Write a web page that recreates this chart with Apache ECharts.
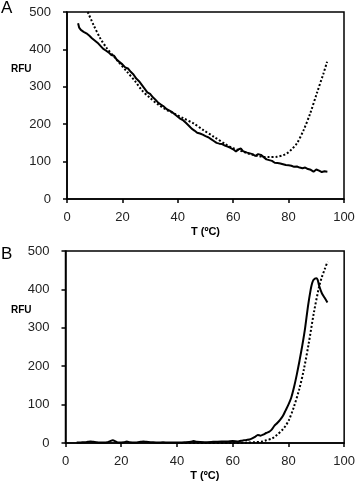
<!DOCTYPE html>
<html>
<head>
<meta charset="utf-8">
<script src="https://cdn.jsdelivr.net/npm/echarts@6/dist/echarts.min.js"></script>
<style>
  html, body { margin: 0; padding: 0; background: #fff; }
  #chart { width: 358px; height: 484px; }
</style>
</head>
<body>
<div id="chart"></div>
<script>
// panel A, measured melt curve (solid)
const aMeasT = [4, 4.4, 5, 6, 7, 8, 9, 10, 11, 12, 13, 14, 15, 16, 17, 17.5, 18, 19, 20, 21, 22, 23, 24, 25, 26, 27, 28, 29, 30,
  31, 32, 33, 34, 35, 36, 37, 38, 39, 40, 41, 42, 43, 44, 45, 46, 47, 48, 49, 50, 51, 52, 53, 54, 55, 56, 57, 58, 59, 60,
  61, 62, 62.8, 63.5, 65, 66, 67, 68, 69, 70, 71, 72, 73, 74, 75, 76, 77, 78, 79, 80, 81, 82, 83, 84, 85, 86, 87, 88, 89, 90, 91, 92, 93, 94]
const aMeasRFU = [470, 458, 452, 447, 443, 437, 430, 424, 418, 410, 402, 397, 392, 385, 383, 382, 372, 366, 360, 352, 349, 340, 333, 322, 315, 305, 295, 285, 281,
  272, 265, 257, 252, 247, 240, 236, 232, 226, 220, 214, 210, 203, 196, 188, 183, 177, 175, 172, 168, 165, 160, 155, 150, 148, 147, 143, 140, 137, 133,
  127, 133, 135, 128, 124, 122, 120, 115, 120, 118, 112, 106, 104, 102, 97, 96, 95, 93, 91, 90, 89, 86, 87, 84, 82, 84, 80, 78, 73, 79, 76, 72, 74, 73]
// panel A, model curve (dotted)
const aFitT = [7.5, 9.6, 12, 14.4, 18, 21.7, 24.7, 27, 30, 33, 36, 38.5, 42, 45.7, 49.3, 52.9, 57.8, 60, 63, 66, 69, 71, 73, 75.8, 78, 79.4, 81, 83, 85.4, 87.8, 90.2, 92.6, 93.9]
const aFitRFU = [500, 465, 430, 403, 372, 340, 314, 291, 270, 252, 238, 229, 216, 202, 184, 167, 144, 136, 128, 120, 115, 113, 112, 113, 117, 122, 132, 149, 184, 229, 283, 336, 367]
// panel B, measured (solid)
const bMeasT = [4, 5, 6, 7, 8, 9, 10, 11, 12, 14, 15, 16, 17, 18, 19, 21, 22, 23, 25, 27, 28, 29, 31, 33, 35, 37, 40, 43, 45, 46, 47, 50, 53, 56, 58, 60,
  62, 63, 64, 65, 66, 67, 68, 69, 70, 71, 72, 73, 74, 75, 76, 77, 78, 79, 80, 81, 82, 83, 84, 85, 86, 87, 88, 88.5, 89, 90, 90.5, 91, 92, 93, 94]
const bMeasRFU = [1, 1, 2, 2, 3, 4, 3, 2, 1, 1, 2, 5, 7, 4, 1, 2, 4, 2, 1, 3, 4, 3, 2, 1, 2, 1, 1, 2, 3, 5, 3, 2, 3, 4, 4, 5,
  4, 6, 7, 8, 9, 12, 16, 21, 19, 22, 26, 29, 35, 45, 52, 60, 70, 85, 100, 118, 145, 178, 215, 255, 300, 355, 400, 416, 425, 429, 425, 410, 390, 378, 366]
// panel B, model (dotted)
const bFitT = [40, 50, 60, 65, 68, 70.7, 72, 74.2, 76, 77.8, 79, 80.2, 82, 83.8, 85.5, 87.3, 89.1, 91, 92, 93, 94]
const bFitRFU = [0, 0, 0, 1, 2, 4, 7, 12, 22, 34, 45, 60, 95, 138, 190, 260, 338, 407, 432, 452, 472]

const xTicks = [0, 20, 40, 60, 80, 100]
const yTicks = [0, 100, 200, 300, 400, 500]

const zip = (xs, ys) => xs.map((x, i) => [x, ys[i]])

const font = 'Liberation Sans, Arial, sans-serif'
const black = '#000'

function xAxisOf(grid) {
  return {
    type: 'value',
    gridIndex: grid,
    min: xTicks[0],
    max: xTicks[xTicks.length - 1],
    interval: 20,
    name: 'T (ºC)',
    nameLocation: 'middle',
    nameGap: 27,
    nameTextStyle: { fontFamily: font, fontSize: 11, fontWeight: 'bold', color: black },
    axisLine: { lineStyle: { color: black, width: 1.5 } },
    axisTick: { length: 4, lineStyle: { color: black, width: 1.5 } },
    axisLabel: { margin: 12, fontFamily: font, fontSize: 13, color: '#222' },
    splitLine: { show: false }
  }
}

function yAxisOf(grid) {
  return {
    type: 'value',
    gridIndex: grid,
    min: yTicks[0],
    max: yTicks[yTicks.length - 1],
    interval: 100,
    axisLine: { show: true, lineStyle: { color: black, width: 1.5 } },
    axisTick: { show: true, length: 4, lineStyle: { color: black, width: 1.5 } },
    axisLabel: { margin: 16, fontFamily: font, fontSize: 13, color: '#222' },
    splitLine: { show: false }
  }
}

const solid = { color: black, width: 2 }
const dotted = { color: black, width: 2, type: [2, 2] }

const chart = echarts.init(document.getElementById('chart'))
chart.setOption({
  animation: false,
  backgroundColor: '#fff',
  grid: [
    { left: 67, top: 12, right: 14, height: 187, show: true, borderColor: black, borderWidth: 1.5 },
    { left: 65.5, top: 251, right: 12, height: 192, show: true, borderColor: black, borderWidth: 1.5 }
  ],
  xAxis: [xAxisOf(0), xAxisOf(1)],
  yAxis: [yAxisOf(0), yAxisOf(1)],
  graphic: [
    { type: 'text', left: 1, top: 0, style: { text: 'A', fontFamily: font, fontSize: 17, fill: black } },
    { type: 'text', left: 1, top: 246, style: { text: 'B', fontFamily: font, fontSize: 17, fill: black } },
    { type: 'text', left: 11, top: 64, style: { text: 'RFU', fontFamily: font, fontSize: 10, fontWeight: 'bold', fill: black } },
    { type: 'text', left: 11, top: 305, style: { text: 'RFU', fontFamily: font, fontSize: 10, fontWeight: 'bold', fill: black } }
  ],
  series: [
    { type: 'line', xAxisIndex: 0, yAxisIndex: 0, data: zip(aFitT, aFitRFU), showSymbol: false, smooth: 0.3, lineStyle: dotted },
    { type: 'line', xAxisIndex: 0, yAxisIndex: 0, data: zip(aMeasT, aMeasRFU), showSymbol: false, lineStyle: solid },
    { type: 'line', xAxisIndex: 1, yAxisIndex: 1, data: zip(bFitT, bFitRFU), showSymbol: false, smooth: 0.3, lineStyle: dotted },
    { type: 'line', xAxisIndex: 1, yAxisIndex: 1, data: zip(bMeasT, bMeasRFU), showSymbol: false, smooth: 0.2, lineStyle: solid }
  ]
})
</script>
</body>
</html>
